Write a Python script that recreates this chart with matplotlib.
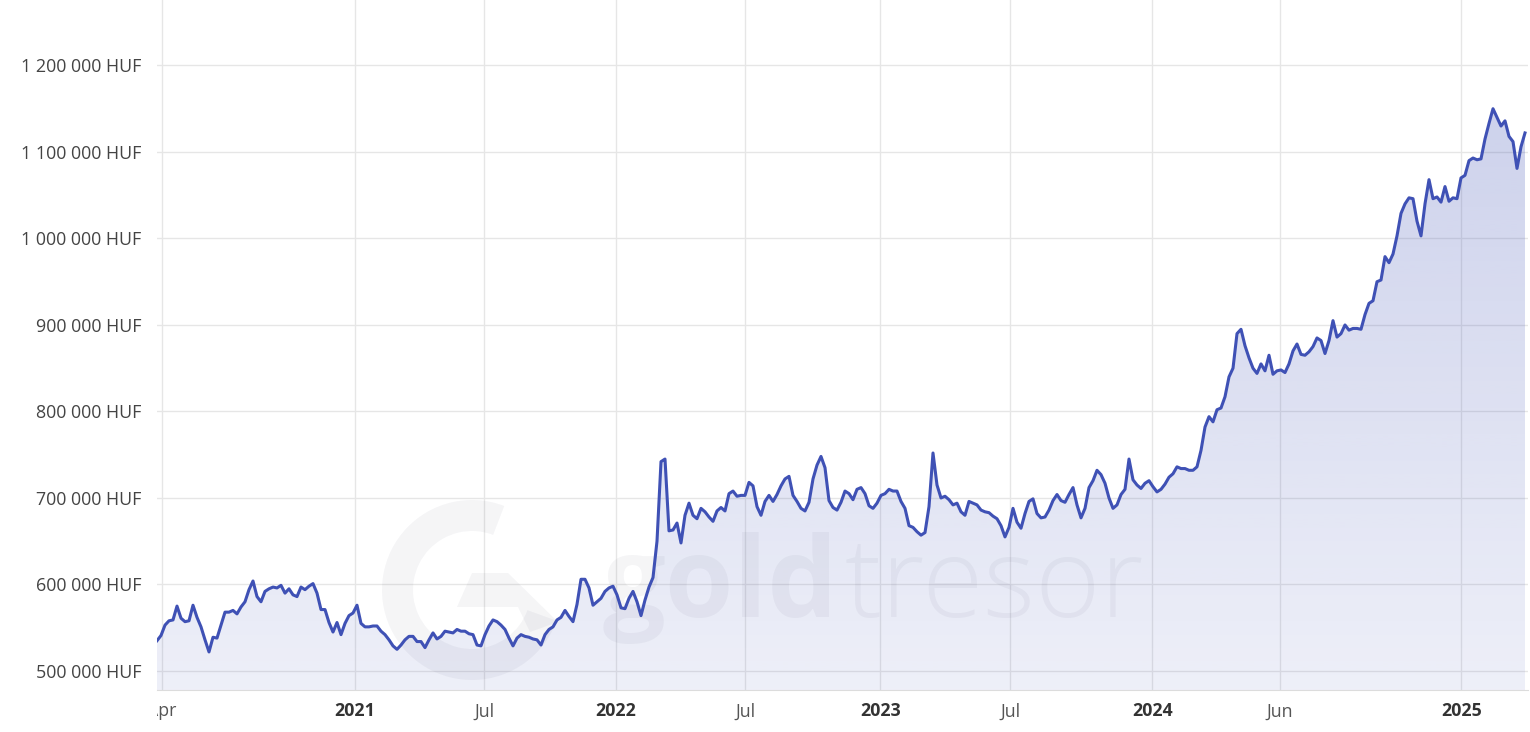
import numpy as np
import matplotlib.pyplot as plt
from matplotlib.patches import Wedge, Polygon
from matplotlib.transforms import IdentityTransform, Bbox, TransformedBbox

# gold price in thousand HUF at equal steps along the axis
price_2020 = [
    535, 541, 553, 558, 559, 575, 561, 557, 558, 576,
    562, 551, 536, 522, 539, 538, 553, 568, 568, 570,
    566, 574, 580, 594, 604, 586, 580, 592, 595, 597,
    596, 599, 590, 595, 588, 586, 597, 594, 598, 601,
    590, 571, 571, 556, 545, 556, 542, 555, 564, 567,
    576, 555, 551, 551, 552, 552, 546, 542, 536, 529,
    525, 530, 536, 540, 540, 534, 534, 527, 536, 544,
    537, 540, 546, 545, 544, 548, 546, 546, 543, 542,
    530, 529, 542, 552, 559, 557, 553, 548, 538, 529,
    538, 542, 540, 539, 537, 536,
]
price_2021 = [
    530, 542, 548, 551, 559, 562, 570, 563, 557, 577,
    606, 606, 596, 576, 580, 584, 592, 596, 598, 588,
    573, 572, 584, 592, 580, 564, 582, 597, 608, 650,
    742, 745, 662, 663, 671, 648, 680, 694, 680, 676,
    688, 684, 678, 673, 685, 689, 685, 705, 708, 702,
    703, 703, 718, 714, 690, 680, 696, 703, 696, 704,
    714, 722, 725, 703, 696, 688, 685, 695, 722, 738,
    748, 735, 697, 689, 686, 695, 708, 705, 698, 710,
    712, 705, 691, 688, 694, 703, 705, 710, 708, 708,
    696, 688, 668, 666, 661, 657, 660, 690, 752, 715,
]
price_2023 = [
    700, 702, 698, 692, 694, 684, 680, 696, 694, 692,
    686, 684, 683, 679, 676, 668, 655, 666, 688, 672,
    665, 682, 696, 699, 682, 677, 678, 686, 697, 704,
    697, 695, 704, 712, 692, 677, 688, 712, 720, 732,
    727, 717, 700, 688, 692, 704, 710, 745, 721, 715,
    711, 717, 720, 713, 707, 710, 716, 724, 728, 736,
    734, 734, 732, 732, 736, 755, 782, 794, 788, 802,
    804, 817, 840, 850, 890, 895, 876, 862, 850, 844,
]
price_2024 = [
    855, 847, 865, 843, 847, 848, 845, 855, 870, 878,
    866, 865, 869, 875, 885, 882, 867, 882, 905, 886,
    890, 900, 894, 896, 896, 895, 912, 925, 928, 950,
    952, 979, 972, 982, 1003, 1029, 1040, 1047, 1046, 1020,
    1003, 1040, 1068, 1046, 1048, 1042, 1060, 1043, 1047, 1046,
    1070, 1073, 1090, 1093, 1091, 1092, 1115, 1133, 1150, 1140,
    1130, 1136, 1118, 1112, 1081, 1106, 1122,
]

tick_labels = ['Apr', '2021', 'Jul', '2022', 'Jul', '2023', 'Jul', '2024', 'Jun', '2025']
tick_idx = [1.2, 49.5, 81.8, 114.8, 147.1, 180.8, 213.3, 248.8, 280.8, 326.1]
y_ticks = [500000, 600000, 700000, 800000, 900000, 1000000, 1100000, 1200000]

price = np.array(price_2020 + price_2021 + price_2023 + price_2024) * 1000.0
x = np.arange(len(price))

line_col = '#3f51b5'
grid_col = '#e6e6e6'
ymin, ymax = 478000, 1275700

plt.rcParams['font.family'] = ['Open Sans', 'DejaVu Sans']

fig = plt.figure(figsize=(15.3, 7.32), dpi=100)
ax = fig.add_axes([157 / 1530, 42 / 732, 1371 / 1530, 690 / 732])

# gradient fill under the line
vals = np.linspace(ymin, ymax, 300)
a = 0.09 + 0.17 * np.clip((vals - ymin) / (price.max() - ymin), 0, 1)
rgba = np.zeros((300, 1, 4))
rgba[..., 0] = 63 / 255
rgba[..., 1] = 81 / 255
rgba[..., 2] = 181 / 255
rgba[:, 0, 3] = a
im = ax.imshow(rgba, extent=[0, len(price), ymin, ymax], origin='lower',
               aspect='auto', zorder=1, interpolation='bilinear')
poly = ax.fill_between(x, price, ymin, facecolor='none', edgecolor='none')
im.set_clip_path(poly.get_paths()[0], ax.transData)

ax.plot(x, price, color=line_col, lw=2.2, zorder=3, solid_joinstyle='round')

ax.set_xlim(0, 342.75)
ax.set_ylim(ymin, ymax)
ax.set_yticks(y_ticks)
ax.set_yticklabels([f'{v:,.0f}'.replace(',', ' ') + ' HUF' for v in y_ticks])
ax.set_xticks(tick_idx)
ax.set_xticklabels(tick_labels)
ax.grid(True, color=grid_col, lw=1)
ax.set_axisbelow(True)
ax.tick_params(axis='y', length=0, pad=11.5, labelsize=12.9, labelcolor='#444444')
ax.tick_params(axis='x', length=0, pad=9, labelsize=12.8, labelcolor='#555555')
for lab in ax.get_xticklabels():
    if lab.get_text().isdigit():
        lab.set_fontweight('bold')
        lab.set_color('#333333')
for s in ['top', 'left', 'right']:
    ax.spines[s].set_visible(False)
ax.spines['bottom'].set_color('#dcdcdc')

# the first label is cut at the plot edge like in the original
first = ax.get_xticklabels()[0]
first.set_clip_on(True)
first.set_clip_box(TransformedBbox(Bbox([[157, 0], [1530, 732]]), IdentityTransform()))

# watermark
wm_col, wm_a = '#1a1a40', 0.045
wm = dict(color=wm_col, alpha=wm_a, zorder=1.5, transform=fig.transFigure,
          ha='left', va='baseline', fontsize=80)
ax.text(603 / 1530, 115 / 732, 'gold', fontweight='bold', **wm)
ax.text(845 / 1530, 115 / 732, 'tresor', fontweight='light', **wm)
ring = Wedge((472, 142), 90, 69, 340, width=31, transform=IdentityTransform(),
             facecolor=wm_col, alpha=wm_a, edgecolor='none', zorder=1.5)
bar = Polygon([(472, 159), (508, 159), (558, 110), (530, 100), (518, 125), (457, 125)],
              closed=True, transform=IdentityTransform(),
              facecolor=wm_col, alpha=wm_a, edgecolor='none', zorder=1.5)
ax.add_artist(ring)
ax.add_artist(bar)

fig.savefig('out.png', dpi=100)
